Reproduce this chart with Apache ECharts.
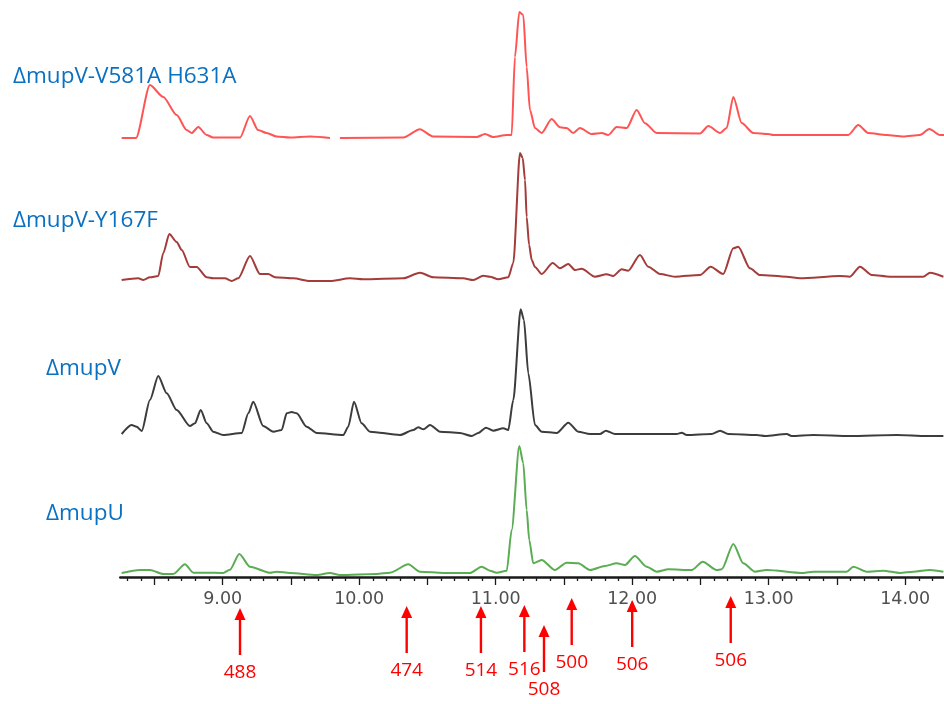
<!DOCTYPE html>
<html>
<head>
<meta charset="utf-8">
<script src="https://cdn.jsdelivr.net/npm/echarts@6/dist/echarts.min.js"></script>
<style>
html,body{margin:0;padding:0;background:#fff;}
#chart{width:944px;height:704px;}
</style>
</head>
<body>
<div id="chart"></div>
<script>
// ---------------- DATA ----------------
const traceNames = ['ΔmupV-V581A H631A', 'ΔmupV-Y167F', 'ΔmupV', 'ΔmupU'];

// [retention time (min), intensity]
const redTrace = [
[8.26,0],[8.365,0],[8.467,53],[8.565,41],[8.663,23],[8.736,8],[8.773,5],[8.821,11],[8.883,3],[8.929,0.5],
[9.127,0.5],[9.20,22],[9.259,8],[9.322,5],[9.396,1.5],[9.493,0.5],[9.640,1.5],[9.786,0],[9.82,'-'],[9.859,0],
[10.323,0.5],[10.445,8.7],[10.541,1.5],[10.861,1],[10.922,4],[10.98,1],[11.081,3],[11.117,3],[11.141,81],[11.173,126],
[11.202,123],[11.227,71],[11.251,28],[11.288,10],[11.337,5],[11.41,19],[11.471,10.7],[11.52,10],[11.568,5],[11.617,10],
[11.703,4],[11.777,5],[11.825,3],[11.886,11],[11.96,10],[12.033,28],[12.094,14.7],[12.18,5],[12.497,4.5],[12.558,12],
[12.644,5],[12.692,10],[12.741,41],[12.802,15],[12.887,5],[12.997,4],[13.034,3],[13.583,3],[13.656,13],[13.73,5],
[13.864,3],[13.986,1.5],[14.108,3],[14.177,9],[14.255,3],[14.285,3]
];
const brownTrace = [
[8.26,0],[8.382,1.7],[8.418,0],[8.467,2.7],[8.528,4],[8.565,27],[8.609,46],[8.663,38],[8.70,30],[8.76,13],
[8.81,13],[8.883,2.7],[8.931,1.7],[9.017,1.7],[9.066,-1],[9.114,1.7],[9.20,24],[9.273,6],[9.334,6],[9.383,2.7],
[9.517,1.7],[9.64,-1],[9.786,-1],[9.933,1.7],[10.03,0.7],[10.323,1.7],[10.445,7.3],[10.543,2.7],[10.762,1.7],[10.836,0],
[10.909,4.3],[10.958,3.3],[11.019,0.7],[11.092,2.7],[11.129,17],[11.178,127],[11.198,122],[11.215,100],[11.227,63],[11.245,35],
[11.264,20],[11.288,13],[11.337,6],[11.418,17],[11.471,11.7],[11.532,16],[11.581,10],[11.63,11.3],[11.727,3.3],[11.813,5.7],
[11.861,4],[11.923,10.7],[11.971,9.3],[12.057,25],[12.118,13.3],[12.204,6],[12.314,3.3],[12.497,5],[12.575,13.3],[12.667,6],
[12.741,31.7],[12.777,33.3],[12.863,11.7],[12.936,5],[13.132,3.3],[13.229,1.7],[13.522,4],[13.595,3.3],[13.669,13.3],[13.755,5],
[13.888,3.3],[14.132,3.3],[14.182,7.3],[14.28,3.3]
];
const blackTrace = [
[8.26,-1],[8.333,8],[8.37,6.3],[8.407,2],[8.467,33],[8.528,57],[8.59,39.7],[8.663,23],[8.76,7],[8.797,9.7],
[8.839,23],[8.883,9.7],[8.931,1.3],[9.004,-2],[9.139,0],[9.188,19.7],[9.224,31.3],[9.297,7],[9.371,1.3],[9.432,3],
[9.469,19.7],[9.505,21],[9.542,19.7],[9.615,6.3],[9.689,0],[9.884,-2],[9.92,6.3],[9.962,31.3],[10.018,9.7],[10.079,1.3],[10.299,-2],
[10.396,3],[10.433,5.7],[10.47,3.7],[10.519,8],[10.592,1.3],[10.738,0],[10.824,-3],[10.873,0],[10.929,5.3],[10.982,2.3],
[11.056,4.7],[11.092,3],[11.129,33],[11.183,123.7],[11.207,113],[11.239,59.7],[11.288,8],[11.337,1.3],[11.447,0],[11.532,10.3],
[11.605,1.3],[11.691,-1],[11.764,-1],[11.808,2.3],[11.874,-1],[12.326,-1],[12.363,0.3],[12.399,-2],[12.582,-1],[12.644,2.3],
[12.704,-1],[12.912,-2],[12.973,-3],[13.132,-1],[13.168,-3],[13.327,-2],[13.595,-3],[13.938,-2],[14.157,-3],[14.28,-3]
];
const greenTrace = [
[8.26,0],[8.394,3],[8.467,3],[8.565,-1],[8.638,-1],[8.724,8.7],[8.785,0.3],[8.87,0.3],[9.004,0],[9.053,3.3],
[9.122,19],[9.20,6.3],[9.347,0.3],[9.396,1.3],[9.493,0],[9.689,-2],[9.786,0],[9.859,-2],[10.128,-1],[10.226,0.3],
[10.36,8.7],[10.445,1.3],[10.616,0],[10.811,0],[10.897,6.3],[10.958,2.3],[11.007,0.3],[11.081,2.3],[11.117,43],[11.173,127],
[11.202,110],[11.227,63],[11.246,33],[11.275,9.7],[11.337,13],[11.434,3],[11.52,10.3],[11.605,9.7],[11.691,3],[11.801,7],
[11.886,9.7],[11.947,8],[12.02,17],[12.106,6.3],[12.18,1.3],[12.265,3.7],[12.436,3],[12.517,11.3],[12.619,3],[12.656,3.7],
[12.741,29],[12.814,9.7],[12.90,1.3],[12.985,3],[13.254,0],[13.327,1.3],[13.571,1.3],[13.62,6.3],[13.718,1.3],[13.839,2.3],
[13.962,0],[14.059,1.3],[14.182,3],[14.28,1.3]
];

// axis ticks / labels
const xMin = 8.25, xMax = 14.28;
const majorTicks = [8.5,9,9.5,10,10.5,11,11.5,12,12.5,13,13.5,14];
const minorTicks = [8.3,8.4,8.6,8.7,8.8,8.9,9.1,9.2,9.3,9.4,9.6,9.7,9.8,9.9,10.1,10.2,10.3,10.4,10.6,10.7,10.8,10.9,
  11.1,11.2,11.3,11.4,11.6,11.7,11.8,11.9,12.1,12.2,12.3,12.4,12.6,12.7,12.8,12.9,13.1,13.2,13.3,13.4,13.6,13.7,13.8,13.9,14.1,14.2];
const tickLabels = [9,10,11,12,13,14];

// peak annotations (m/z) at retention times
const annotTimes = [9.127, 10.348, 10.892, 11.21, 11.354, 11.557, 12.0, 12.722];
const annotLabels = ['488','474','514','516','508','500','506','506'];

// ---------------- LAYOUT ----------------
const annotDrop = [31,29,29,28,48,21,23,19]; // px below axis for arrow tip
const colors = ['#ff5454', '#a33c3a', '#3c3c3c', '#5aad52'];
const gridTops = [8, 150, 303, 443];
const yMins = [-10, -10, -10, -4];
const labelPos = [[13,77],[13,221],[46,369],[46,514]];

const chart = echarts.init(document.getElementById('chart'), null, {renderer:'canvas'});
const traces = [redTrace, brownTrace, blackTrace, greenTrace];

const grids = [], xAxes = [], yAxes = [], series = [];
for (let i = 0; i < 4; i++) {
  grids.push({left: 120.3, right: 0.6, top: gridTops[i], height: 130 - yMins[i]});
  xAxes.push({
    type:'value', gridIndex:i, min:xMin, max:xMax, position:'bottom',
    show: i === 3,
    splitLine:{show:false},
    axisLine:{show:true, onZero:false, lineStyle:{color:'#1a1a1a', width:2.5}},
    axisTick:{show:true, customValues: majorTicks, length:8, lineStyle:{color:'#1a1a1a', width:1.3}},
    axisLabel:{show:true, customValues: tickLabels, formatter: v => Number(v).toFixed(2),
      color:'#505050', fontSize:17.5, fontFamily:'DejaVu Sans', margin:13}
  });
  yAxes.push({type:'value', gridIndex:i, min:yMins[i], max:130, show:false, splitLine:{show:false}});
  series.push({
    type:'line', name: traceNames[i], xAxisIndex:i, yAxisIndex:i, data: traces[i],
    showSymbol:false, symbol:'none', smooth:0.25, smoothMonotone:'x', connectNulls:false,
    lineStyle:{color:colors[i], width:2}, animation:false, silent:true
  });
}
// minor ticks axis
xAxes.push({
  type:'value', gridIndex:3, min:xMin, max:xMax, position:'bottom',
  splitLine:{show:false},
  axisLine:{show:false, onZero:false},
  axisTick:{show:true, customValues: minorTicks, length:4, lineStyle:{color:'#1a1a1a', width:1.3}},
  axisLabel:{show:false}
});

// annotation arrows
series.push({
  type:'custom', xAxisIndex:3, yAxisIndex:3, clip:false, silent:true, animation:false,
  data: annotTimes.map((t, k) => [t, 0, k]),
  renderItem: function(params, api) {
    const k = api.value(2);
    const x = api.coord([api.value(0), 0])[0];
    const y0 = params.coordSys.y + params.coordSys.height;
    const tip = y0 + annotDrop[k];
    return {
      type:'group',
      children:[
        {type:'line', shape:{x1:x, y1:tip+10, x2:x, y2:tip+47}, style:{stroke:'#ff0000', lineWidth:2.4}},
        {type:'polygon', shape:{points:[[x, tip],[x-5.5, tip+12],[x+5.5, tip+12]]}, style:{fill:'#ff0000'}},
        {type:'text', style:{text:annotLabels[k], x:x, y:tip+65, align:'center', verticalAlign:'middle',
          font:'19px "Open Sans"', fill:'#ff0000'}}
      ]
    };
  }
});

const graphics = traceNames.map((n, i) => ({
  type:'text', x: labelPos[i][0], y: labelPos[i][1], silent:true,
  style:{text:n, font:'22.5px "Open Sans"', fill:'#0a70c0', verticalAlign:'middle', align:'left'}
}));

chart.setOption({
  animation:false,
  grid: grids, xAxis: xAxes, yAxis: yAxes, series: series,
  graphic: graphics
});
</script>
</body>
</html>
